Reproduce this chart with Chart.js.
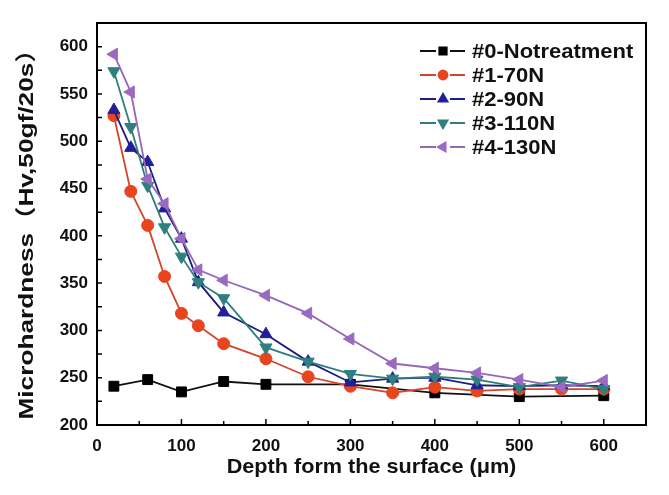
<!DOCTYPE html>
<html>
<head>
<meta charset="utf-8">
<script src="https://cdn.jsdelivr.net/npm/chart.js@4.4.1/dist/chart.umd.min.js"></script>
<style>
  html, body { margin: 0; padding: 0; background: #fff; }
</style>
</head>
<body>
<canvas id="hardness" width="669" height="495"></canvas>
<script>
// depth (um) and microhardness (Hv)
const depths = [20, 40, 60, 80, 100, 120, 150, 200, 250, 300, 350, 400, 450, 500, 550, 600];
const depthsNoTreatment = [20, 60, 100, 150, 200, 300, 400, 500, 600];
const hvNoTreatment = [241, 248, 235, 246, 243, 243, 234, 230, 231];
const hv70N = [527, 447, 411, 357, 318, 305, 286, 270, 251, 241, 234, 240, 236, 238, 238, 238];
const hv90N = [533, 493, 478, 429, 397, 351, 319, 296, 267, 245, 249, 250, 242, 241, 242, 241];
const hv110N = [574, 515, 453, 409, 378, 351, 334, 282, 267, 254, 249, 251, 248, 240, 247, 238];
const hv130N = [592, 552, 460, 434, 397, 364, 353, 337, 318, 291, 265, 260, 255, 248, 240, 247];
const seriesLabels = ['#0-Notreatment', '#1-70N', '#2-90N', '#3-110N', '#4-130N'];
const xTicks = [0, 100, 200, 300, 400, 500, 600];
const yTicks = [200, 250, 300, 350, 400, 450, 500, 550, 600];
const xTitle = 'Depth form the surface (\u03bcm)';
const yTitle = 'Microhardness\uff08Hv,50gf/20s\uff09';

const FONT = "'Liberation Sans', Arial, 'Noto Sans CJK SC', sans-serif";
Chart.defaults.font.family = FONT;
Chart.defaults.color = '#111';

const toPoints = (xs, ys) => xs.map((x, i) => ({x: x, y: ys[i]}));

function series(label, xs, ys, line, fill, style, radius, rotation, order) {
    return {
        label: label,
        data: toPoints(xs, ys),
        borderColor: line,
        borderWidth: 1.8,
        pointStyle: style,
        pointRadius: radius,
        pointRotation: rotation,
        pointBackgroundColor: fill,
        pointBorderColor: fill,
        pointBorderWidth: 1,
        tension: 0,
        order: order
    };
}

// the original's lettering is a little wider than Liberation Sans, so stretch it
function stretchedText(ctx, text, x, y, angle, stretch) {
    ctx.save();
    ctx.translate(x, y);
    ctx.rotate(angle);
    ctx.scale(stretch, 1);
    ctx.fillText(text, 0, 0);
    ctx.restore();
}

// inward ticks, closed frame, axis titles and a line+marker legend
const framePlugin = {
    id: 'frame',
    afterDraw(chart) {
        const ctx = chart.ctx;
        const a = chart.chartArea;
        const xs = chart.scales.x;
        const ys = chart.scales.y;
        ctx.save();
        ctx.strokeStyle = '#000';
        ctx.lineWidth = 1.5;
        ctx.beginPath();
        for (let v = 0; v <= 650; v += 50) {
            const px = xs.getPixelForValue(v);
            const len = v % 100 === 0 ? 6 : 4;
            ctx.moveTo(px, a.bottom);
            ctx.lineTo(px, a.bottom - len);
        }
        for (let v = 225; v <= 625; v += 25) {
            const py = ys.getPixelForValue(v);
            ctx.moveTo(a.left, py);
            ctx.lineTo(a.left + 5, py);
        }
        ctx.stroke();
        ctx.lineWidth = 2;
        ctx.strokeRect(a.left, a.top, a.right - a.left, a.bottom - a.top);

        ctx.fillStyle = '#111';
        ctx.font = 'bold 21px ' + FONT;
        ctx.textAlign = 'center';
        ctx.textBaseline = 'middle';
        stretchedText(ctx, xTitle, (a.left + a.right) / 2, 467, 0, 1.03);
        stretchedText(ctx, yTitle, 27, 228, -Math.PI / 2, 1.25);

        ctx.font = 'bold 20px ' + FONT;
        ctx.textAlign = 'left';
        chart.data.datasets.forEach((ds, i) => {
            const y = 51 + i * 24;
            ctx.strokeStyle = ds.borderColor;
            ctx.lineWidth = 1.8;
            ctx.beginPath();
            ctx.moveTo(420, y); ctx.lineTo(436, y);
            ctx.moveTo(450, y); ctx.lineTo(465, y);
            ctx.stroke();
            ctx.fillStyle = ds.pointBackgroundColor;
            ctx.strokeStyle = ds.pointBorderColor;
            Chart.helpers.drawPoint(ctx, {
                pointStyle: ds.pointStyle,
                radius: ds.pointRadius * 0.75,
                rotation: ds.pointRotation,
                borderWidth: 1
            }, 443, y);
            ctx.fillStyle = '#111';
            stretchedText(ctx, ds.label, 472, y + 1, 0, 1.1);
        });
        ctx.restore();
    }
};

new Chart(document.getElementById('hardness').getContext('2d'), {
    type: 'line',
    data: {
        datasets: [
            series(seriesLabels[0], depthsNoTreatment, hvNoTreatment, '#111', '#000', 'rect', 7, 0, 5),
            series(seriesLabels[1], depths, hv70N, '#d4452a', '#e8441e', 'circle', 6, 0, 4),
            series(seriesLabels[2], depths, hv90N, '#1e1e82', '#20209c', 'triangle', 7, 0, 3),
            series(seriesLabels[3], depths, hv110N, '#2f7d7d', '#2f7f7f', 'triangle', 7, 180, 2),
            series(seriesLabels[4], depths, hv130N, '#9667b8', '#9a6ac0', 'triangle', 7, 270, 1)
        ]
    },
    options: {
        responsive: false,
        animation: false,
        layout: {padding: {top: 23, right: 23, left: 0, bottom: 0}},
        plugins: {legend: {display: false}, tooltip: {enabled: false}},
        scales: {
            x: {
                type: 'linear',
                min: 0,
                max: 650,
                grid: {display: false, drawTicks: false},
                border: {display: false},
                afterBuildTicks: (scale) => { scale.ticks = xTicks.map(v => ({value: v})); },
                afterFit: (scale) => { scale.height = 70; },
                ticks: {padding: 11, font: {size: 17, weight: 'bold'}, color: '#111'}
            },
            y: {
                min: 200,
                max: 625,
                grid: {display: false, drawTicks: false},
                border: {display: false},
                afterBuildTicks: (scale) => { scale.ticks = yTicks.map(v => ({value: v})); },
                afterFit: (scale) => { scale.width = 97; },
                ticks: {padding: 9, font: {size: 17, weight: 'bold'}, color: '#111'}
            }
        }
    },
    plugins: [framePlugin]
});
</script>
</body>
</html>
